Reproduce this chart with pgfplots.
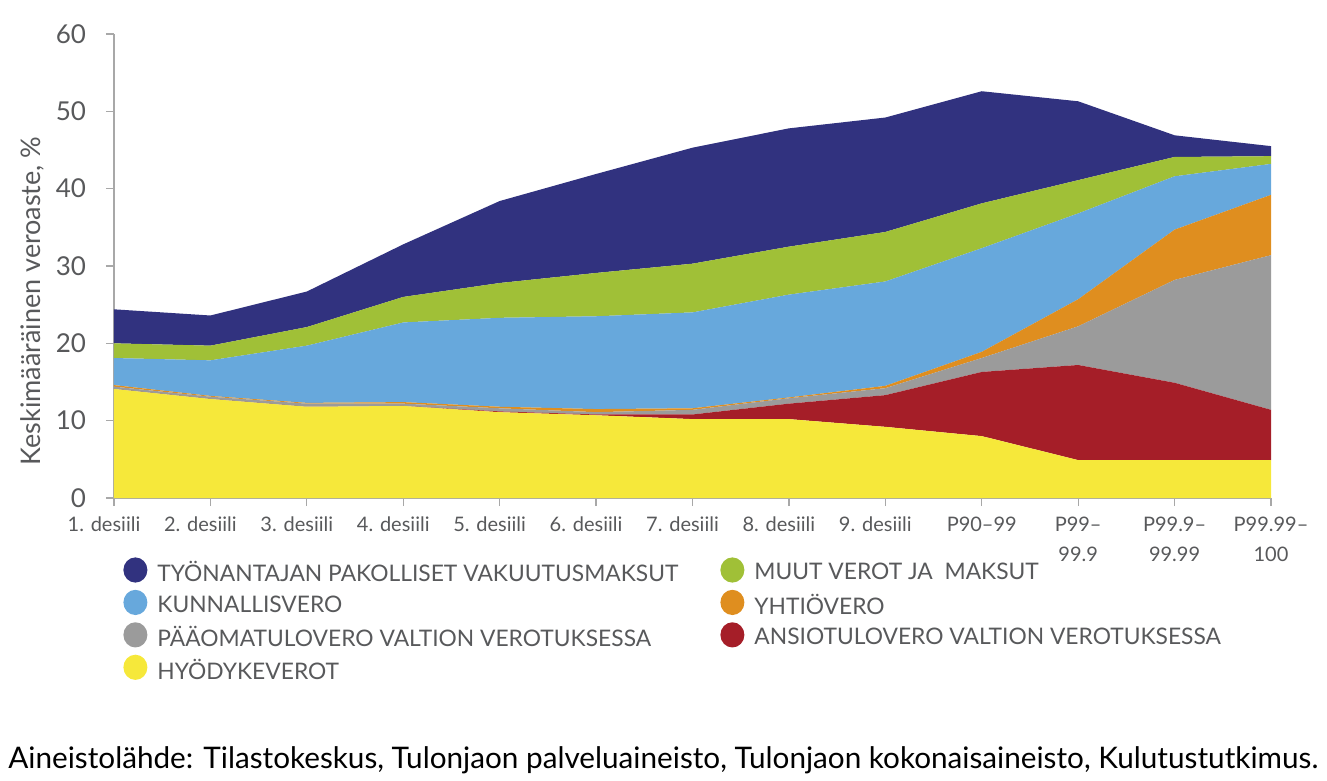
\documentclass[border=0pt]{standalone}
\usepackage{fontspec}
\setmainfont{Lato}
\usepackage{pgfplots}
\usepackage{pgfplotstable}
\pgfplotsset{compat=1.18}
\definecolor{cdark}{HTML}{31327F}
\definecolor{cgreen}{HTML}{A0C037}
\definecolor{cblue}{HTML}{67A8DC}
\definecolor{corange}{HTML}{DF8E1F}
\definecolor{cgray}{HTML}{9B9B9B}
\definecolor{cred}{HTML}{A51E28}
\definecolor{cyellow}{HTML}{F6E83A}
\definecolor{ctext}{HTML}{58595B}
\definecolor{caxis}{HTML}{A8A8A8}

\pgfplotstableread{
x yel red gry ora blu grn dar
0 14.1 0.0 0.3 0.2 3.5 1.9 4.4
1 12.8 0.0 0.3 0.1 4.6 1.9 3.9
2 11.8 0.0 0.4 0.1 7.4 2.4 4.6
3 11.9 0.0 0.3 0.2 10.3 3.3 6.8
4 11.1 0.1 0.4 0.2 11.5 4.5 10.6
5 10.7 0.1 0.3 0.4 12.0 5.6 12.8
6 10.2 0.6 0.6 0.2 12.4 6.3 15.0
7 10.2 2.0 0.7 0.1 13.3 6.2 15.3
8 9.2 4.1 0.9 0.3 13.5 6.4 14.8
9 8.0 8.3 1.8 0.8 13.4 5.8 14.5
10 4.9 12.3 5.0 3.5 11.1 4.3 10.2
11 4.9 10.0 13.3 6.5 6.9 2.5 2.8
12 4.9 6.5 20.0 7.8 4.0 1.0 1.3
}\data

\newcommand{\dl}[1]{#1\rule{10pt}{0pt}}

\begin{document}
\begin{tikzpicture}
\begin{axis}[
  scale only axis, width=578.5pt, height=232pt,
  xmin=0, xmax=12, ymin=0, ymax=60,
  stack plots=y,
  axis lines=left,
  axis line style={-, draw=caxis, line width=0.6pt},
  xtick={0,...,12},
  xticklabels={\dl{1. desiili}, \dl{2. desiili}, \dl{3. desiili}, \dl{4. desiili}, \dl{5. desiili}, \dl{6. desiili}, \dl{7. desiili}, \dl{8. desiili}, \dl{9. desiili}, P90–99, {P99–\\99.9}, {P99.9–\\99.99}, {P99.99–\\100}},
  ytick={0,10,...,60},
  tick align=outside, major tick length=4pt,
  tick style={draw=caxis, line width=0.6pt},
  ticklabel style={text=ctext},
  xticklabel style={font=\fontsize{10}{15}\selectfont, align=center, yshift=-2pt},
  yticklabel style={font=\fontsize{13}{15}\selectfont, xshift=-6.5pt},
  /pgf/number format/assume math mode=true,
  ylabel={Keskimääräinen veroaste, \%},
  ylabel style={at={(axis description cs:-0.0709,0.4246)}, anchor=center, font=\fontsize{13.5}{16}\selectfont, text=ctext},
  legend style={at={(axis description cs:0,0)}, anchor=north west, xshift=4.5pt, yshift=-29.5pt,
    draw=none, fill=none, inner sep=0pt, legend columns=2, row sep=2.5pt,
    font=\fontsize{11.4}{13}\selectfont, text=ctext,
    nodes={inner sep=0pt},
    /tikz/every odd column/.append style={column sep=5pt},
    /tikz/every even column/.append style={column sep=11.5pt}},
  legend cell align=left,
  legend image code/.code={\fill[#1, draw=none] (6pt,1.6pt) circle[x radius=6pt, y radius=6.3pt];},
]
\addplot[fill=cyellow, draw=none, forget plot] table[x=x, y=yel] {\data} \closedcycle;
\addplot[fill=cred, draw=none, forget plot] table[x=x, y=red] {\data} \closedcycle;
\addplot[fill=cgray, draw=none, forget plot] table[x=x, y=gry] {\data} \closedcycle;
\addplot[fill=corange, draw=none, forget plot] table[x=x, y=ora] {\data} \closedcycle;
\addplot[fill=cblue, draw=none, forget plot] table[x=x, y=blu] {\data} \closedcycle;
\addplot[fill=cgreen, draw=none, forget plot] table[x=x, y=grn] {\data} \closedcycle;
\addplot[fill=cdark, draw=none, forget plot] table[x=x, y=dar] {\data} \closedcycle;

\addlegendimage{fill=cdark, draw=none}
\addlegendentry{\makebox[270pt][l]{TYÖNANTAJAN PAKOLLISET VAKUUTUSMAKSUT}}
\addlegendimage{fill=cgreen, draw=none}
\addlegendentry{MUUT VEROT JA\ \ MAKSUT}
\addlegendimage{fill=cblue, draw=none}
\addlegendentry{\makebox[270pt][l]{KUNNALLISVERO}}
\addlegendimage{fill=corange, draw=none}
\addlegendentry{YHTIÖVERO}
\addlegendimage{fill=cgray, draw=none}
\addlegendentry{\makebox[270pt][l]{PÄÄOMATULOVERO VALTION VEROTUKSESSA}}
\addlegendimage{fill=cred, draw=none}
\addlegendentry{ANSIOTULOVERO VALTION VEROTUKSESSA}
\addlegendimage{fill=cyellow, draw=none}
\addlegendentry{\makebox[270pt][l]{HYÖDYKEVEROT}}
\end{axis}
\node[anchor=base west, font=\fontsize{14.85}{16}\selectfont, text=black, inner sep=0pt]
  at ([xshift=-53pt, yshift=-135pt]current axis.south west)
  {Aineistolähde: Tilastokeskus, Tulonjaon palveluaineisto, Tulonjaon kokonaisaineisto, Kulutustutkimus.};
\pgfresetboundingbox
\useasboundingbox ([xshift=-57pt,yshift=-141.5pt]current axis.south west) rectangle ([xshift=606.5pt,yshift=249pt]current axis.south west);
\end{tikzpicture}
\end{document}
